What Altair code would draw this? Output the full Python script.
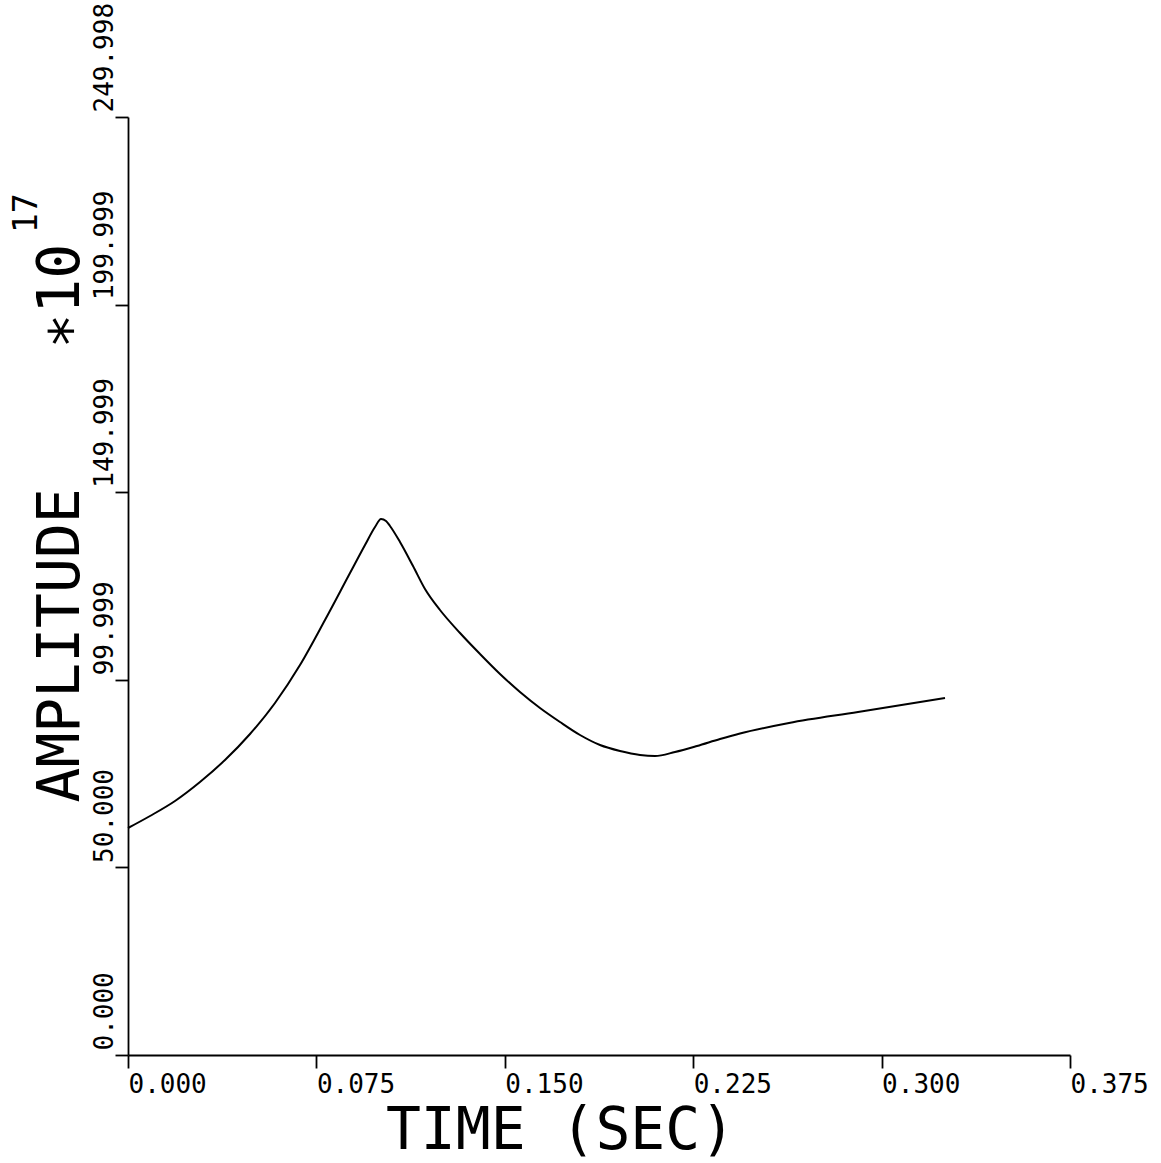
import altair as alt
import pandas as pd

# ---- data ----
time_sec = [0.00000, 0.00876, 0.01871, 0.02866, 0.03861, 0.04857, 0.05852, 0.06847,
            0.07842, 0.08838, 0.09435, 0.09833, 0.10072, 0.10271, 0.10430, 0.10828,
            0.11346, 0.11823, 0.12420, 0.13217, 0.14013, 0.14809, 0.15605, 0.16401,
            0.17197, 0.17994, 0.18790, 0.19586, 0.20382, 0.20979, 0.21775, 0.22651,
            0.23567, 0.24363, 0.26314, 0.29061, 0.32524]
amplitude = [60.50, 63.70, 67.70, 72.76, 78.62, 85.55, 93.82, 103.94,
             115.94, 128.46, 135.93, 140.72, 142.86, 142.32, 140.99, 136.73,
             130.33, 124.20, 118.60, 112.47, 106.88, 101.55, 96.75, 92.48,
             88.75, 85.29, 82.62, 81.02, 79.96, 79.69, 80.76, 82.36,
             84.22, 85.69, 88.49, 91.42, 95.15]

x_ticks = [0.0, 0.075, 0.15, 0.225, 0.3, 0.375]
y_ticks = [0, 50, 100, 150, 200, 250]
y_tick_labels = ["0.000", "50.000", "99.999", "149.999", "199.999", "249.998"]

x_title = "TIME (SEC)"
y_title = "AMPLITUDE\u00a0\u00a0\u00a0\u00a0\u221710"
y_title_exponent = ["17"]

df = pd.DataFrame({"t": time_sec, "a": amplitude})

FONT = "DejaVu Sans Mono"
ylabel_expr = "[" + ",".join("'%s'" % s for s in y_tick_labels) + "][round(datum.value/50)]"

line = alt.Chart(df).mark_line(color="black", strokeWidth=2, interpolate="monotone").encode(
    x=alt.X("t:Q",
            scale=alt.Scale(domain=[0, 0.375], nice=False, zero=False),
            axis=alt.Axis(values=x_ticks, format=".3f", title=x_title,
                          labelAlign="left", labelBaseline="top", labelPadding=3,
                          labelAngle=0, labelFlush=False, labelOverlap=False,
                          titleX=432, titleY=93, titleAlign="center",
                          titleBaseline="alphabetic")),
    y=alt.Y("a:Q",
            scale=alt.Scale(domain=[0, 250], nice=False, zero=False),
            axis=alt.Axis(values=y_ticks, labelExpr=ylabel_expr, title=y_title,
                          labelAngle=270, labelAlign="left", labelBaseline="alphabetic",
                          labelPadding=3, labelOffset=-5, labelFlush=False,
                          labelOverlap=False,
                          titleAngle=270, titleAlign="left", titleBaseline="alphabetic",
                          titleX=-50, titleY=685)),
)

sup = alt.Chart(pd.DataFrame({"s": y_title_exponent})).mark_text(
    angle=270, align="left", baseline="alphabetic", font=FONT, fontSize=33,
    color="black"
).encode(x=alt.value(-91), y=alt.value(116), text="s:N")

chart = alt.layer(line, sup).properties(
    width=942, height=938,
    autosize=alt.AutoSizeParams(type="none"),
    padding={"left": 128, "top": 117, "right": 91, "bottom": 108},
    background="white",
).configure_view(stroke=None).configure_axis(
    grid=False,
    domainColor="black", domainWidth=1.8,
    tickColor="black", tickWidth=1.8, tickSize=13,
    labelFont=FONT, labelFontSize=26, labelColor="black",
    titleFont=FONT, titleFontSize=58, titleFontWeight="normal", titleColor="black",
)

chart.save("out.html", embed_options={"renderer": "svg", "actions": False})
